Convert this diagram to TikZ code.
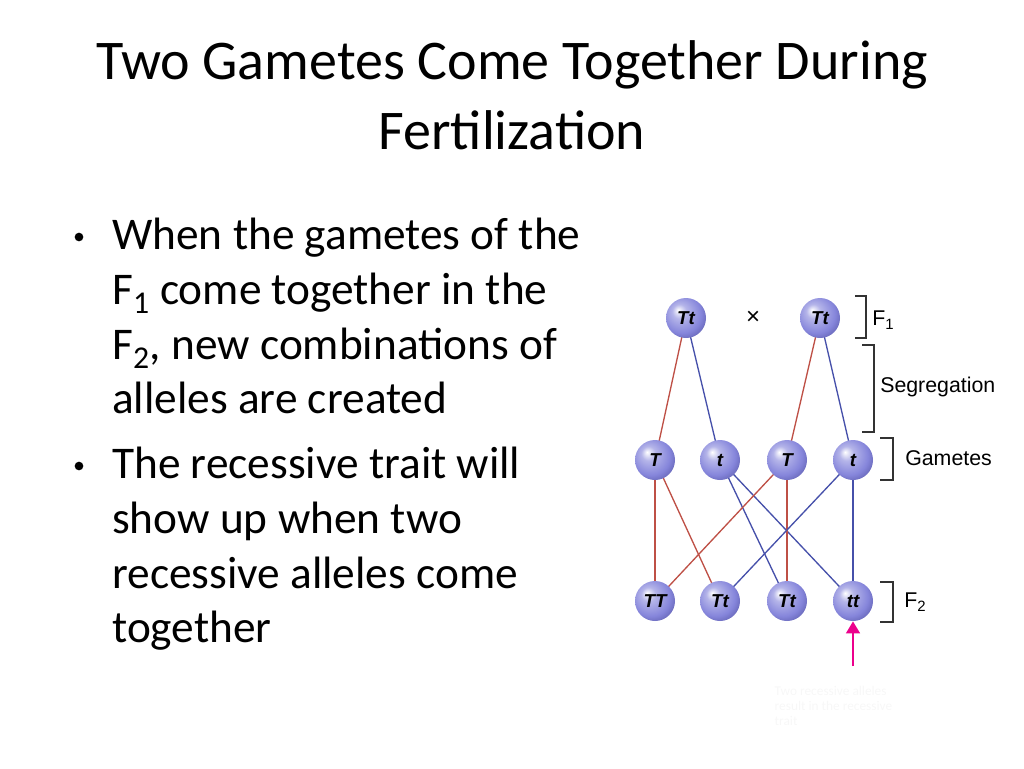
\documentclass[tikz,border=0pt]{standalone}
\usepackage{fontspec}
\setmainfont{Carlito}
\newfontfamily\arialf{Liberation Sans}
\usetikzlibrary{backgrounds,arrows.meta}
\definecolor{redl}{RGB}{190,80,70}
\definecolor{bluel}{RGB}{70,80,170}
\definecolor{sph}{RGB}{120,120,215}
\tikzset{
 ballnode/.style={circle,minimum size=30pt,inner sep=0pt,shading=ball,ball color=sph!75!white,font=\arialf\bfseries\itshape\fontsize{14}{14}\selectfont},
 rl/.style={draw=redl,line width=1pt},
 bl/.style={draw=bluel,line width=1pt},
 brk/.style={draw=black!80,line width=1.1pt},
 lab/.style={font=\arialf\fontsize{16}{16}\selectfont,anchor=west,inner sep=0pt},
 bul/.style={font=\fontsize{34}{34}\selectfont,anchor=base west,inner sep=0pt}
}
\pgfdeclareradialshading{myball}{\pgfpoint{-10bp}{10bp}}{color(0bp)=(white); color(9bp)=(sph!55!white); color(24bp)=(sph!90!white); color(32bp)=(sph!85!black); color(50bp)=(sph!85!black)}
\begin{document}
\begin{tikzpicture}[x=0.75pt,y=-0.75pt]
\useasboundingbox (0,0) rectangle (1024,768);
\tikzset{ballnode/.append style={shading=myball}}
\node[font=\fontsize{42}{42}\selectfont] (t1) at (512,65) {Two Gametes Come Together During};
\node[font=\fontsize{42}{42}\selectfont] (t2) at (512,130) {Fertilization};
\node[bul] (b1) at (112,249) {When the gametes of the};
\node[bul] (b2) at (112,304) {F\textsubscript{1} come together in the};
\node[bul] (b3) at (112,359) {F\textsubscript{2}, new combinations of};
\node[bul] (b4) at (112,413) {alleles are created};
\node[bul] (b5) at (112,478) {The recessive trait will};
\node[bul] (b6) at (112,533) {show up when two};
\node[bul] (b7) at (112,588) {recessive alleles come};
\node[bul] (b8) at (112,642) {together};
\node[circle,fill=black,inner sep=0pt,minimum size=6.5pt] (d1) at (79,237) {};
\node[circle,fill=black,inner sep=0pt,minimum size=6.5pt] (d2) at (79,466) {};
% spheres
\node[ballnode] (p1) at (686,318) {Tt};
\node[ballnode] (p2) at (820,318) {Tt};
\node (x) at (753,318) {\arialf\fontsize{18}{18}\selectfont ×};
\node[ballnode] (g1) at (655,460) {T};
\node[ballnode] (g2) at (720,460) {t};
\node[ballnode] (g3) at (787,460) {T};
\node[ballnode] (g4) at (853,460) {t};
\node[ballnode] (f1) at (655,601) {TT};
\node[ballnode] (f2) at (720,601) {Tt};
\node[ballnode] (f3) at (787,601) {Tt};
\node[ballnode] (f4) at (853,601) {tt};
\begin{scope}[on background layer]
\draw[rl] (p1.center) -- (g1.center);
\draw[bl] (p1.center) -- (g2.center);
\draw[rl] (p2.center) -- (g3.center);
\draw[bl] (p2.center) -- (g4.center);
\draw[rl] (g1.center) -- (f1.center);
\draw[rl] (g1.center) -- (f2.center);
\draw[bl] (g2.center) -- (f3.center);
\draw[bl] (g2.center) -- (f4.center);
\draw[rl] (g3.center) -- (f1.center);
\draw[rl] (g3.center) -- (f3.center);
\draw[bl] (g4.center) -- (f2.center);
\draw[bl] (g4.center) -- (f4.center);
\end{scope}
% brackets
\draw[brk] (855,296) -- (866,296) -- (866,338) -- (855,338);
\node[lab] (lf1) at (872,320) {F\textsubscript{1}};
\draw[brk] (862,345) -- (874,345) -- (874,432) -- (862,432);
\node[lab] (lseg) at (880,387) {Segregation};
\draw[brk] (880,438) -- (893,438) -- (893,480) -- (880,480);
\node[lab] (lgam) at (905,458) {Gametes};
\draw[brk] (880,582) -- (893,582) -- (893,622) -- (880,622);
\node[lab] (lf2) at (904,602) {F\textsubscript{2}};
\coordinate (ab) at (853,666);
\draw[magenta,line width=2.2pt,-{Triangle[length=9pt,width=10pt]}] (ab) -- (f4.south);
\node[font=\fontsize{10}{11}\selectfont\rmfamily,text=black!3,align=left,anchor=north west] (ft) at (770,682) {Two recessive alleles\\ result in the recessive\\ trait};
\end{tikzpicture}
\end{document}
